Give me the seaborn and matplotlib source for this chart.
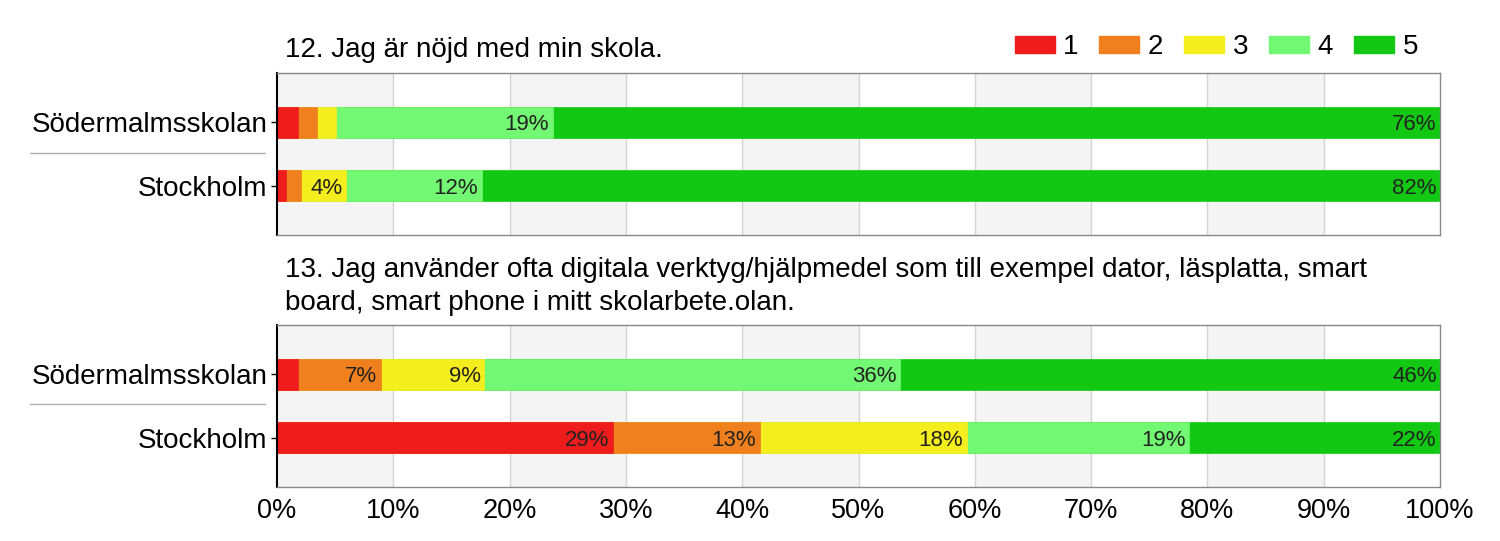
import pandas as pd
import seaborn as sns
import matplotlib.pyplot as plt
from matplotlib.patches import Patch
from matplotlib.lines import Line2D

schools = ['Södermalmsskolan', 'Stockholm']
levels = ['1', '2', '3', '4', '5']
colors = ['#ee1c1c', '#f07f1e', '#f5ee1e', '#72f872', '#12c812']

# share of answers (%) per level, one list per level, order = schools
q12 = {
    '1': [1.8, 0.8],
    '2': [1.6, 1.3],
    '3': [1.7, 3.8],
    '4': [18.6, 11.7],
    '5': [76.3, 82.4],
}
q13 = {
    '1': [1.8, 28.9],
    '2': [7.1, 12.6],
    '3': [8.9, 17.8],
    '4': [35.8, 19.1],
    '5': [46.4, 21.6],
}
titles = [
    '12. Jag är nöjd med min skola.',
    '13. Jag använder ofta digitala verktyg/hjälpmedel som till exempel dator, läsplatta, smart\n'
    'board, smart phone i mitt skolarbete.olan.',
]
ticks = [0, 10, 20, 30, 40, 50, 60, 70, 80, 90, 100]

rows = []
for q, data in (('q12', q12), ('q13', q13)):
    for i, school in enumerate(schools):
        cum = 0
        for lev in levels:
            cum += data[lev][i]
            rows.append(dict(question=q, school=school, level=lev,
                             value=data[lev][i], cum=cum))
df = pd.DataFrame(rows)

sns.set_theme(style='white')
plt.rcParams['font.family'] = ['Liberation Sans', 'DejaVu Sans']
plt.rcParams['text.color'] = 'black'
plt.rcParams['xtick.color'] = 'black'
plt.rcParams['ytick.color'] = 'black'

fig = plt.figure(figsize=(15, 5.41), dpi=100)
axes = [
    fig.add_axes([277 / 1500, 1 - 235 / 541, 1163 / 1500, 162 / 541]),
    fig.add_axes([277 / 1500, 1 - 487 / 541, 1163 / 1500, 162 / 541]),
]

for ax, q in zip(axes, ('q12', 'q13')):
    sub = df[df['question'] == q]
    for k in range(0, 100, 20):
        ax.axvspan(k, k + 10, color='#f4f4f4', zorder=0, lw=0)
    for t in ticks[1:-1]:
        ax.axvline(t, color='#d4d4d4', lw=1, zorder=0.5)
    for lev, c in reversed(list(zip(levels, colors))):
        part = sub[sub['level'] == lev]
        sns.barplot(data=part, x='cum', y='school', color=c, orient='h',
                    width=0.48, saturation=1, ax=ax, zorder=2,
                    edgecolor=c, linewidth=0.5)
    for _, r in sub.iterrows():
        if r['value'] >= 3:
            ax.text(r['cum'] - 0.3, schools.index(r['school']) + 0.04,
                    f"{round(r['value']):.0f}%", ha='right', va='center',
                    fontsize=16, color='#222222', zorder=3)
    ax.set_xlim(0, 100)
    ax.set_ylim(1.78, -0.78)
    ax.set_xlabel('')
    ax.set_ylabel('')
    ax.set_xticks(ticks)
    ax.tick_params(axis='y', left=True, length=4, width=1, color='black',
                   labelsize=20, pad=3)
    ax.tick_params(axis='x', bottom=False, length=0, labelsize=19.5, pad=8)
    for s in ('top', 'right', 'bottom'):
        ax.spines[s].set_color('#888888')
        ax.spines[s].set_linewidth(1)
    ax.spines['left'].set_color('black')
    ax.spines['left'].set_linewidth(1.5)

axes[0].set_xticklabels([])
axes[1].set_xticklabels([f'{t}%' for t in ticks])

# separator lines between the school labels
for y in (153, 404):
    fig.add_artist(Line2D([30 / 1500, 265 / 1500], [1 - y / 541] * 2,
                          color='#9a9a9a', lw=1, alpha=0.8))

fig.text(285 / 1500, 1 - 50 / 541, titles[0], fontsize=20, va='center')
fig.text(285 / 1500, 1 - 257 / 541, titles[1], fontsize=20, va='top',
         linespacing=1.35)

handles = [Patch(facecolor=c, edgecolor=c) for c in colors]
fig.legend(handles, levels, loc='center right', ncol=5, frameon=False,
           bbox_to_anchor=(1418 / 1500, 1 - 47 / 541), fontsize=20,
           handlelength=1.44, handleheight=0.58, handletextpad=0.3,
           columnspacing=0.76, borderaxespad=0, borderpad=0)

fig.savefig('out.png', dpi=100)
